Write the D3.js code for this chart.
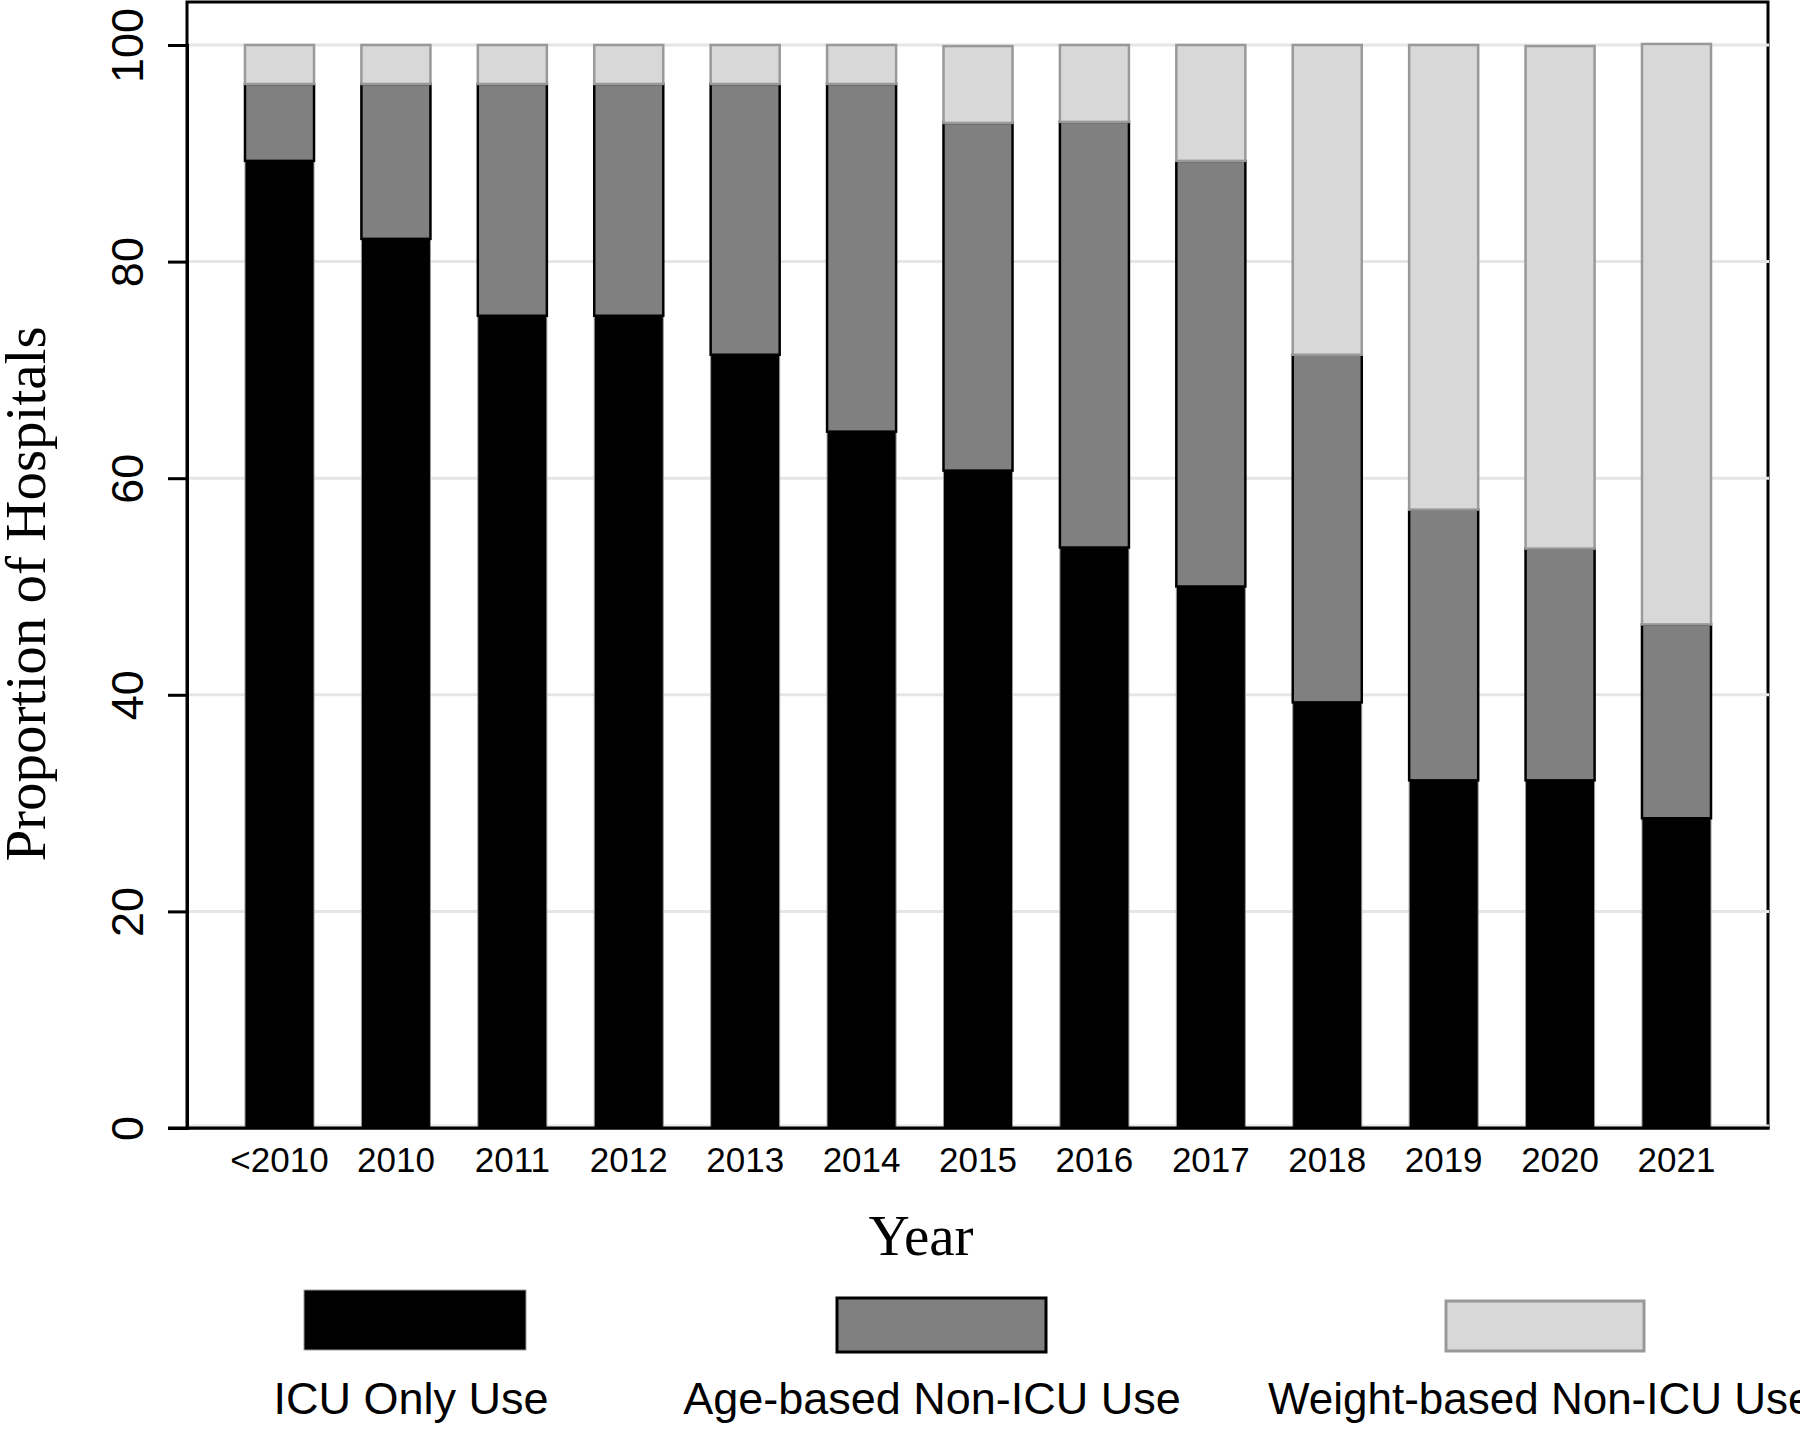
<!DOCTYPE html>
<html>
<head>
<meta charset="utf-8">
<script src="https://cdn.jsdelivr.net/npm/d3@7"></script>
<style>
  html, body { margin: 0; padding: 0; background: #fff; }
  svg { display: block; }
</style>
</head>
<body>
<svg id="chart" width="1800" height="1430"></svg>
<script>
// ---- data ----
const years = ["<2010","2010","2011","2012","2013","2014","2015","2016","2017","2018","2019","2020","2021"];
const icuOnly    = [89.3, 82.1, 75.0, 75.0, 71.4, 64.3, 60.7, 53.6, 50.0, 39.3, 32.1, 32.1, 28.6];
const ageBased   = [ 7.1, 14.3, 21.4, 21.4, 25.0, 32.1, 32.1, 39.3, 39.3, 32.1, 25.0, 21.4, 17.9];
const weightBased= [ 3.6,  3.6,  3.6,  3.6,  3.6,  3.6,  7.1,  7.1, 10.7, 28.6, 42.9, 46.4, 53.6];
const seriesNames = ["ICU Only Use", "Age-based Non-ICU Use", "Weight-based Non-ICU Use"];
const yTicks = [0, 20, 40, 60, 80, 100];

(function () {
const keys = ["icu", "age", "weight"];
const rows = years.map((yr, i) => ({ year: yr, icu: icuOnly[i], age: ageBased[i], weight: weightBased[i] }));

const styles = {
  icu:    { fill: "#000000", stroke: "#9a9a9a", sw: 1 },
  age:    { fill: "#808080", stroke: "#000000", sw: 2.5 },
  weight: { fill: "#d8d8d8", stroke: "#999999", sw: 2.5 }
};

const svg = d3.select("#chart");
const pLeft = 187, pRight = 1768, pTop = 2, pBottom = 1128;

const x = d3.scaleBand().domain(years).range([221.3, 1734.7]).paddingInner(0.407).paddingOuter(0.2035);
const y = d3.scaleLinear().domain([0, 100]).range([pBottom, 45]);

// frame
svg.append("rect").attr("x", pLeft).attr("y", pTop).attr("width", pRight - pLeft).attr("height", pBottom - pTop)
  .attr("fill", "none").attr("stroke", "#000").attr("stroke-width", 3);

// gridlines
svg.append("g").selectAll("line").data(yTicks).join("line")
  .attr("x1", pLeft + 2).attr("x2", pRight + 1)
  .attr("y1", d => y(d) - (d === 0 ? 2 : 0)).attr("y2", d => y(d) - (d === 0 ? 2 : 0))
  .attr("stroke", "#e6e6e6").attr("stroke-width", 3);

// stacked bars
const stacked = d3.stack().keys(keys)(rows);
const gBars = svg.append("g");
stacked.forEach(layer => {
  const st = styles[layer.key];
  gBars.append("g").selectAll("rect").data(layer).join("rect")
    .attr("x", d => x(d.data.year))
    .attr("width", x.bandwidth())
    .attr("y", d => y(d[1]))
    .attr("height", d => y(d[0]) - y(d[1]))
    .attr("fill", st.fill)
    .attr("stroke", st.stroke)
    .attr("stroke-width", st.sw);
});

// y axis
const yAxis = svg.append("g").attr("transform", `translate(${pLeft},0)`)
  .call(d3.axisLeft(y).tickValues(yTicks).tickSize(19).tickPadding(0));
yAxis.select(".domain").attr("stroke", "#000").attr("stroke-width", 3);
yAxis.selectAll(".tick line").attr("stroke", "#000").attr("stroke-width", 3);
yAxis.selectAll(".tick text")
  .attr("transform", "rotate(-90)")
  .attr("x", 0).attr("y", -44).attr("dy", 0)
  .attr("text-anchor", "middle")
  .attr("font-family", "'Liberation Sans', Arial, sans-serif")
  .attr("font-size", 45).attr("fill", "#000");

// x axis
const xAxis = svg.append("g").attr("transform", `translate(0,${pBottom})`)
  .call(d3.axisBottom(x).tickSize(0));
xAxis.select(".domain").remove();
xAxis.selectAll(".tick text")
  .attr("y", 44).attr("dy", 0)
  .attr("font-family", "'Liberation Sans', Arial, sans-serif")
  .attr("font-size", 35).attr("fill", "#000");
// bottom axis line
svg.append("line").attr("x1", 168).attr("x2", pRight + 1.5).attr("y1", pBottom).attr("y2", pBottom)
  .attr("stroke", "#000").attr("stroke-width", 3);

// axis titles
svg.append("text").attr("x", 921).attr("y", 1255).attr("text-anchor", "middle")
  .attr("font-family", "'Liberation Serif', 'Times New Roman', serif").attr("font-size", 57)
  .text("Year");
svg.append("text").attr("transform", "translate(45,594) rotate(-90)").attr("text-anchor", "middle")
  .attr("font-family", "'Liberation Serif', 'Times New Roman', serif").attr("font-size", 57)
  .text("Proportion of Hospitals");

// legend
const legendItems = [
  { key: "icu",    name: seriesNames[0], rx: 304,  ry: 1290, rw: 222, rh: 60, tx: 411,  fs: 45 },
  { key: "age",    name: seriesNames[1], rx: 837,  ry: 1298, rw: 209, rh: 54, tx: 932,  fs: 45 },
  { key: "weight", name: seriesNames[2], rx: 1446, ry: 1301, rw: 198, rh: 50, tx: 1268, fs: 44, anchor: "start" }
];
const lg = svg.append("g");
legendItems.forEach(it => {
  const st = styles[it.key];
  lg.append("rect").attr("x", it.rx).attr("y", it.ry).attr("width", it.rw).attr("height", it.rh)
    .attr("fill", st.fill).attr("stroke", st.stroke).attr("stroke-width", it.key === "icu" ? 1 : 3);
  lg.append("text").attr("x", it.tx).attr("y", 1414).attr("text-anchor", it.anchor || "middle")
    .attr("font-family", "'Liberation Sans', Arial, sans-serif").attr("font-size", it.fs)
    .text(it.name);
});
})();
</script>
</body>
</html>
